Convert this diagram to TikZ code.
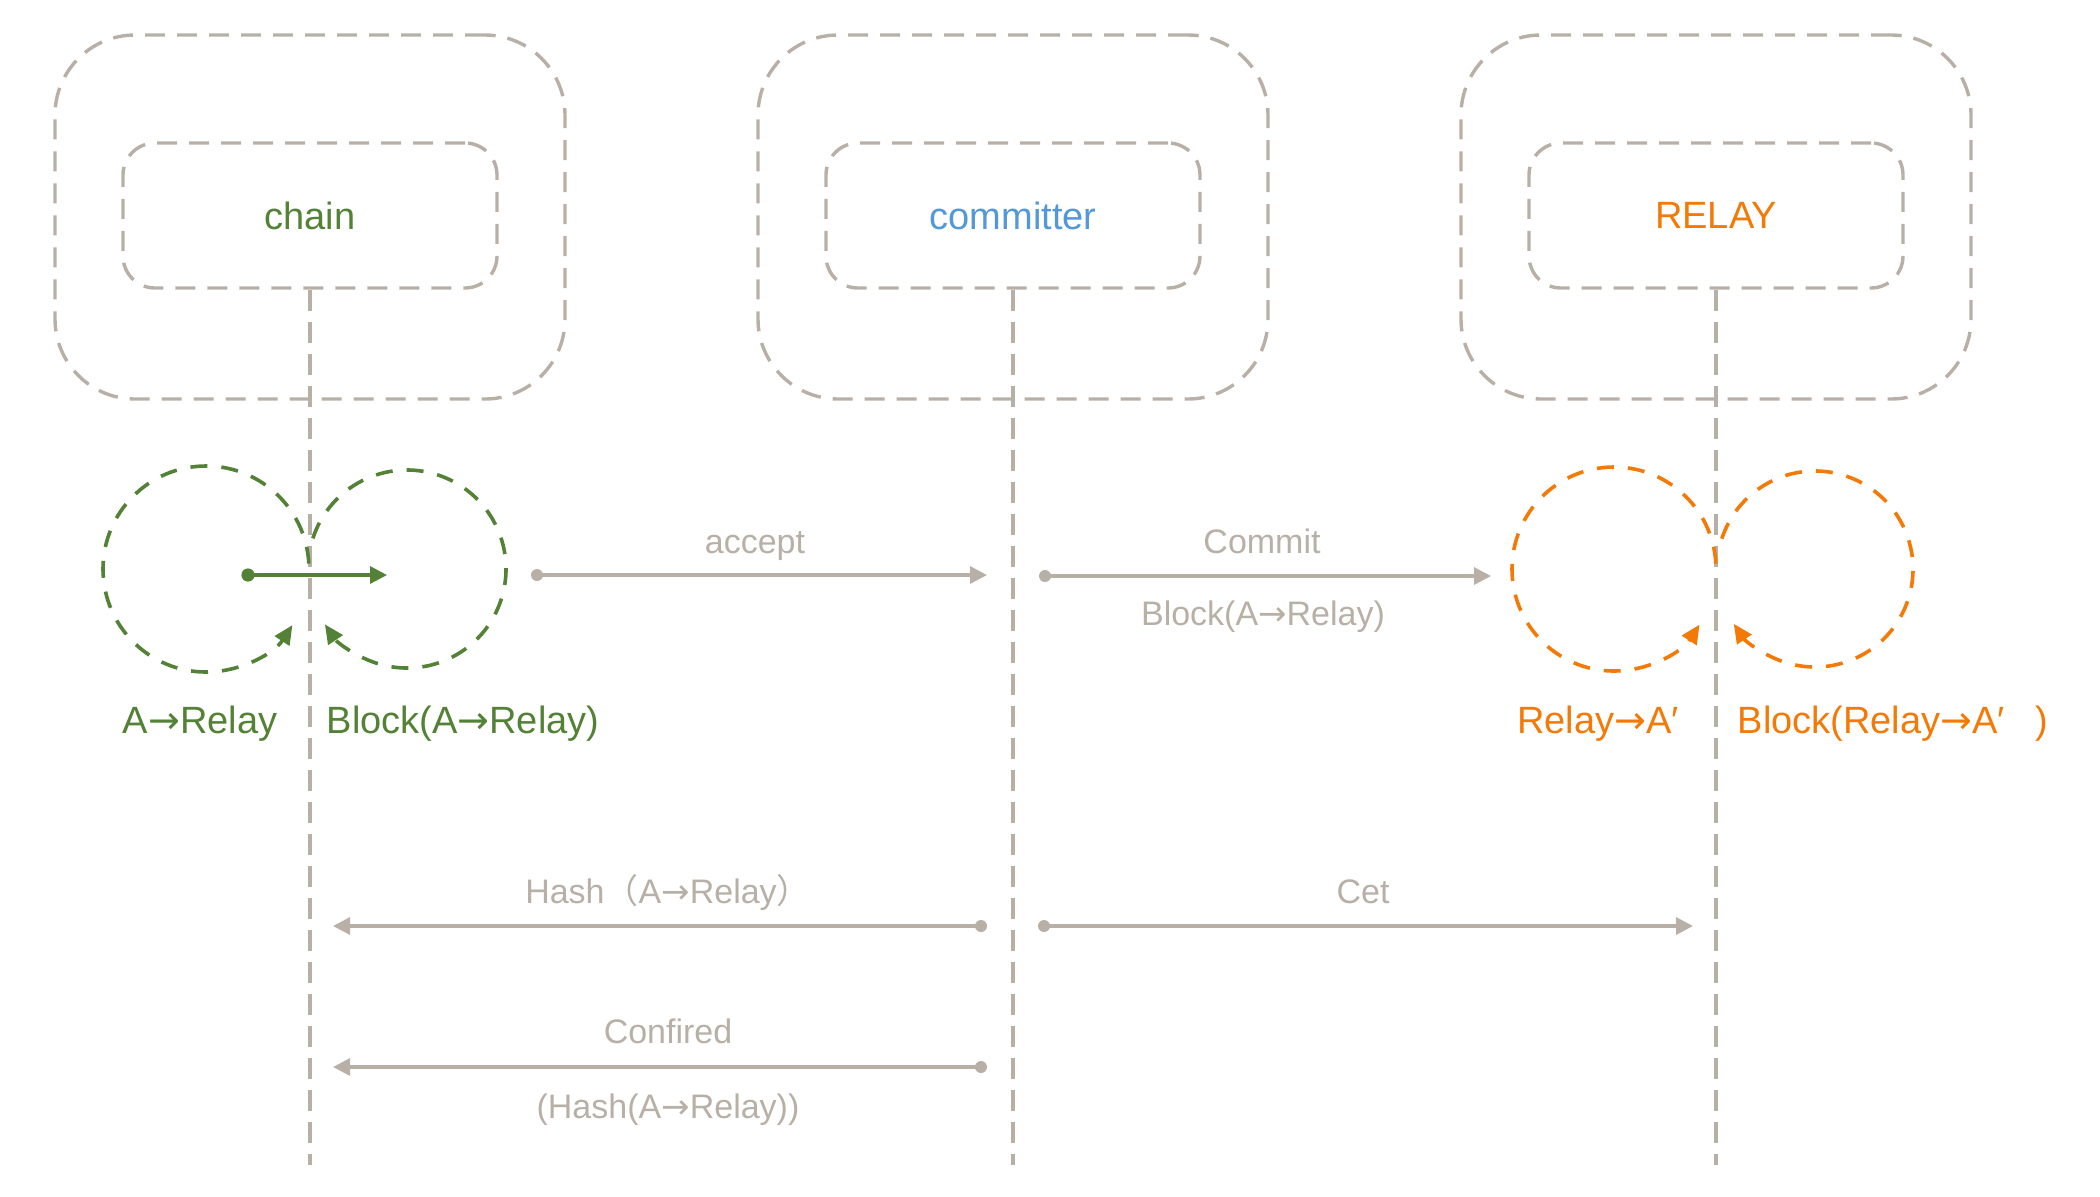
\documentclass[tikz,border=0pt]{standalone}
\usepackage{fontspec}
\setmainfont{Liberation Sans}
\newfontfamily\cjk{Noto Sans CJK SC}
\newfontfamily\djv{DejaVu Sans}
\newcommand\rarr{{\djv →}}
\usetikzlibrary{arrows.meta}
\definecolor{lgray}{RGB}{184,176,166}
\definecolor{cgreen}{RGB}{83,129,53}
\definecolor{cblue}{RGB}{84,152,216}
\definecolor{corange}{RGB}{244,122,8}
\begin{document}
\begin{tikzpicture}[x=0.5pt,y=-0.5pt,
  outerbox/.style={draw=lgray, line width=1.7pt, dash pattern=on 10pt off 6pt, rounded corners=40pt, minimum width=255pt, minimum height=182pt, inner sep=0pt},
  innerbox/.style={draw=lgray, line width=1.7pt, dash pattern=on 10pt off 6pt, rounded corners=16pt, minimum width=187pt, minimum height=72.5pt, inner sep=0pt, font=\fontsize{19}{22}\selectfont},
  lifeline/.style={draw=lgray, line width=1.7pt, dash pattern=on 10.5pt off 5.5pt},
  loopg/.style={draw=#1, line width=1.8pt, dash pattern=on 8.5pt off 7pt, -{Triangle[length=9.5pt,width=8.5pt]}},
  gdot/.style={circle, fill=#1, inner sep=0pt, minimum size=6.6pt},
  msg/.style={draw=#1, line width=1.6pt, -{Triangle[length=8.5pt,width=8.5pt]}},
  glab/.style={font=\fontsize{17}{20}\selectfont, text=lgray, anchor=base, inner sep=0pt},
  clab/.style={font=\fontsize{19}{22}\selectfont, text=#1, anchor=base, inner sep=0pt}
]
\useasboundingbox (0,0) rectangle (2100,1196);

% participant boxes
\node[outerbox] (chainO) at (310,217) {};
\node[innerbox, text=cgreen] (chainI) at (310,215.5) {chain};
\node[outerbox] (commO) at (1013,217) {};
\node[innerbox, text=cblue] (commI) at (1013,215.5) {committer};
\node[outerbox] (relayO) at (1716,217) {};
\node[innerbox, text=corange] (relayI) at (1716,215.5) {RELAY};

% lifelines
\coordinate (chainEnd) at (310,1165);
\coordinate (commEnd) at (1013,1165);
\coordinate (relayEnd) at (1716,1165);
\draw[lifeline] (chainI.south) -- (chainEnd);
\draw[lifeline] (commI.south) -- (commEnd);
\draw[lifeline] (relayI.south) -- (relayEnd);

% self loops (green)
\coordinate (gc1) at (206,569);
\coordinate (gc2) at (407,569);
\draw[loopg=cgreen] (gc1) ++(-3:103) arc[start angle=-3, end angle=-327, radius=103];
\draw[loopg=cgreen] (gc2) ++(-162:99) arc[start angle=-162, end angle=146, radius=99];
% self loops (orange)
\coordinate (oc1) at (1614,569);
\coordinate (oc2) at (1815,569);
\draw[loopg=corange] (oc1) ++(-3:102) arc[start angle=-3, end angle=-327, radius=102];
\draw[loopg=corange] (oc2) ++(-162:98) arc[start angle=-162, end angle=146, radius=98];

% green internal arrow
\node[gdot=cgreen] (gd) at (248,575) {};
\coordinate (gt) at (387,575);
\draw[msg=cgreen] (gd.center) -- (gt);

% messages
\node[gdot=lgray, minimum size=6pt] (d1) at (537,575) {};
\coordinate (t1) at (987,575);
\draw[msg=lgray] (d1.center) -- (t1);
\node[gdot=lgray, minimum size=6pt] (d2) at (1045,576) {};
\coordinate (t2) at (1491,576);
\draw[msg=lgray] (d2.center) -- (t2);
\node[gdot=lgray, minimum size=6pt] (d3) at (981,926) {};
\coordinate (t3) at (333,926);
\draw[msg=lgray] (d3.center) -- (t3);
\node[gdot=lgray, minimum size=6pt] (d4) at (1044,926) {};
\coordinate (t4) at (1693,926);
\draw[msg=lgray] (d4.center) -- (t4);
\node[gdot=lgray, minimum size=6pt] (d5) at (981,1067) {};
\coordinate (t5) at (333,1067);
\draw[msg=lgray] (d5.center) -- (t5);

% message labels
\node[glab] (l1) at (755,553) {accept};
\node[glab] (l2) at (1262,553) {Commit};
\node[glab] (l3) at (1263,625) {Block(A\rarr Relay)};
\node[glab] (l4) at (668,903) {Hash{\cjk （}A\rarr Relay{\cjk ）}};
\node[glab] (l5) at (1363,903) {Cet};
\node[glab] (l6) at (668,1043) {Confired};
\node[glab] (l7) at (668,1118) {(Hash(A\rarr Relay))};

% state labels
\node[clab=cgreen] (s1) at (200,733) {A\rarr Relay};
\node[clab=cgreen] (s2) at (463,733) {Block(A\rarr Relay)};
\node[clab=corange] (s3) at (1598,733) {Relay\rarr A′};
\node[clab=corange] (s4) at (1893,733) {Block(Relay\rarr A\makebox[1em][l]{′})};
\end{tikzpicture}
\end{document}
